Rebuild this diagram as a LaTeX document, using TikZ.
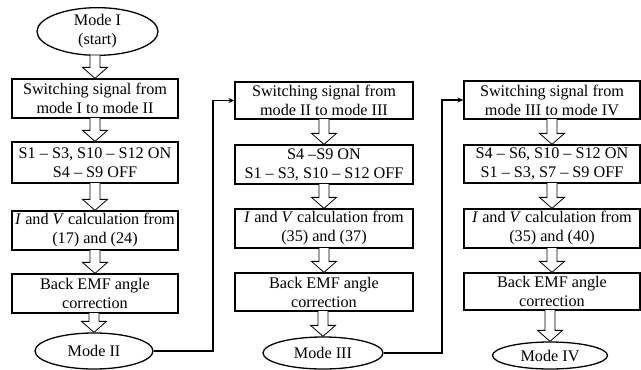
\documentclass[tikz,border=0pt]{standalone}
\usepackage{fontspec}
\setmainfont{Liberation Serif}
\usetikzlibrary{shapes.geometric,calc,arrows.meta}
\newcommand\hollowarrow[2]{%
  \draw[harrow] let \p1=(#1.south), \p2=(#2.north) in
    (\x2-5pt,\y1+0.5pt) -- (\x2-5pt,\y2+11pt) -- (\x2-12.5pt,\y2+11pt) -- (\x2,\y2)
    -- (\x2+12.5pt,\y2+11pt) -- (\x2+5pt,\y2+11pt) -- (\x2+5pt,\y1+0.5pt);}
\begin{document}
\begin{tikzpicture}[x=1pt,y=-1pt,
  txt/.style={font=\fontsize{16.2}{19}\selectfont},
  box/.style={txt, draw, line width=1.3pt, align=center, inner sep=0pt, minimum height=39pt},
  term/.style={txt, draw, ellipse, line width=1.3pt, align=center, inner sep=0pt},
  harrow/.style={line width=0.8pt, fill=white, line join=miter},
  conn/.style={line width=1.3pt, -{Stealth[length=6pt,width=5pt]}}]
\useasboundingbox (0,0) rectangle (641,370);

% column 1
\node[term, minimum width=121pt, minimum height=47pt] (m1) at (97.5,31.5) {Mode I\\(start)};
\node[box, minimum width=166pt] (b11) at (95,98.5) {Switching signal from\\mode I to mode II};
\node[box, minimum width=166pt, minimum height=41pt] (b12) at (95,162.5) {S1 -- S3, S10 -- S12 ON\\S4 -- S9 OFF};
\node[box, minimum width=166pt] (b13) at (95,230.5) {\textit{I} and \textit{V} calculation from\\(17) and (24)};
\node[box, minimum width=166pt] (b14) at (95,293.5) {Back EMF angle\\correction};
\node[term, minimum width=118pt, minimum height=36pt] (m2) at (94,351) {Mode II};

% column 2
\node[box, minimum width=178pt, minimum height=37pt] (b21) at (324,100.5) {Switching signal from\\mode II to mode III};
\node[box, minimum width=178pt] (b22) at (324,164.5) {S4 --S9 ON\\S1 -- S3, S10 -- S12 OFF};
\node[box, minimum width=178pt] (b23) at (324,228.5) {\textit{I} and \textit{V} calculation from\\(35) and (37)};
\node[box, minimum width=178pt, minimum height=38pt] (b24) at (324,292) {Back EMF angle\\correction};
\node[term, minimum width=120pt, minimum height=32pt] (m3) at (323,353) {Mode III};

% column 3
\node[box, minimum width=176pt, minimum height=38pt] (b31) at (552,100) {Switching signal from\\mode III to mode IV};
\node[box, minimum width=176pt, minimum height=38pt] (b32) at (552,164) {S4 -- S6, S10 -- S12 ON\\S1 -- S3, S7 -- S9 OFF};
\node[box, minimum width=176pt] (b33) at (552,228.5) {\textit{I} and \textit{V} calculation from\\(35) and (40)};
\node[box, minimum width=176pt, minimum height=37pt] (b34) at (552,291.5) {Back EMF angle\\correction};
\node[term, minimum width=115pt, minimum height=27pt] (m4) at (550,355.5) {Mode IV};

% hollow arrows
\hollowarrow{m1}{b11}
\hollowarrow{b11}{b12}
\hollowarrow{b12}{b13}
\hollowarrow{b13}{b14}
\hollowarrow{b14}{m2}
\hollowarrow{b21}{b22}
\hollowarrow{b22}{b23}
\hollowarrow{b23}{b24}
\hollowarrow{b24}{m3}
\hollowarrow{b31}{b32}
\hollowarrow{b32}{b33}
\hollowarrow{b33}{b34}
\hollowarrow{b34}{m4}

% connectors
\coordinate (j1) at (213,100.5);
\coordinate (j2) at (442,100);
\draw[conn] (m2.east) -| (j1) -- (b21.west);
\draw[conn] (m3.east) -| (j2) -- (b31.west);
\end{tikzpicture}
\end{document}
